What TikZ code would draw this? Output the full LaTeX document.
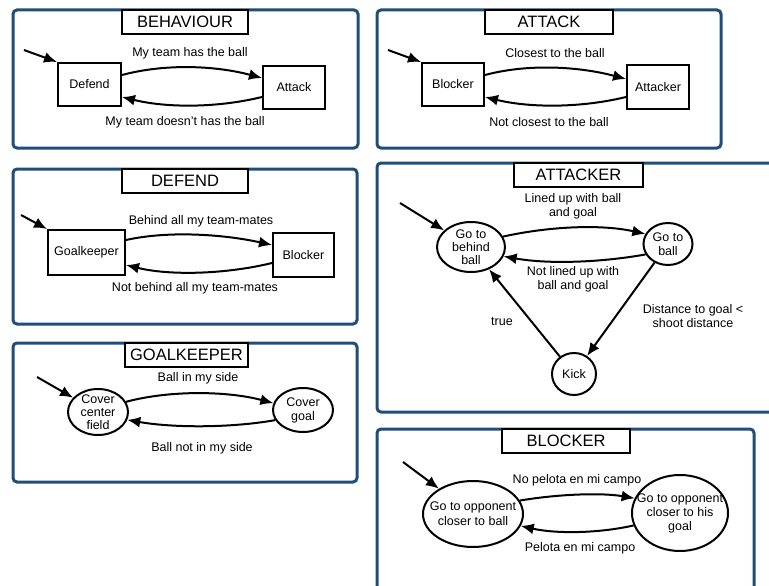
\documentclass[tikz,border=0pt]{standalone}
\usepackage{fontspec}
\setmainfont{Liberation Sans}
\usetikzlibrary{arrows.meta,shapes.geometric,calc}

\definecolor{panelblue}{RGB}{31,78,121}

\tikzset{
  panel/.style={draw=panelblue, line width=3pt, rounded corners=4pt},
  titlebox/.style={draw=black, line width=1.8pt, fill=white, inner sep=0pt,
    minimum height=24pt, font=\fontsize{16.5}{18}\selectfont},
  rectstate/.style={draw=black, line width=2pt, fill=white, inner sep=0pt,
    font=\fontsize{12.5}{14}\selectfont},
  ellstate/.style={ellipse, draw=black, line width=2pt, fill=white, inner sep=0pt},
  intext/.style={align=center, font=\fontsize{12.5}{13}\selectfont},
  lbl/.style={align=center, font=\fontsize{12.5}{14}\selectfont},
  arr/.style={draw=black, line width=2pt, -{Latex[length=13pt,width=11pt]}},
}

\begin{document}
\begin{tikzpicture}[x=1pt, y=-1pt]
  \clip (0,0) rectangle (769,586);
  \fill[white] (0,0) rectangle (769,586);

  % ---------------- BEHAVIOUR ----------------
  \draw[panel] (13,10) rectangle (358,148);
  \node[titlebox, minimum width=126pt] (tbeh) at (185,22) {BEHAVIOUR};
  \node[rectstate, minimum width=63pt, minimum height=43pt] (defend) at (89.5,84.5) {Defend};
  \node[rectstate, minimum width=62pt, minimum height=43pt] (attack) at (294,87.5) {Attack};
  \coordinate (ibeh) at (24,50);
  \draw[arr] (ibeh) -- (defend.north west);
  \draw[arr] ($(defend.east)+(0,-9.5)$) .. controls +(45,-12) and +(-45,-12) .. ($(attack.west)+(0,-9.5)$);
  \draw[arr] ($(attack.west)+(0,9.5)$) .. controls +(-45,11) and +(45,11) .. ($(defend.east)+(0,12.5)$);
  \node[lbl] (lbeh1) at (190,53) {My team has the ball};
  \node[lbl] (lbeh2) at (185,122) {My team doesn't has the ball};

  % ---------------- ATTACK ----------------
  \draw[panel] (377,10) rectangle (721,148);
  \node[titlebox, minimum width=128pt] (tatt) at (549,22) {ATTACK};
  \node[rectstate, minimum width=62pt, minimum height=43pt] (blocker) at (453,84.5) {Blocker};
  \node[rectstate, minimum width=62pt, minimum height=44pt] (attacker) at (658,87) {Attacker};
  \coordinate (iatt) at (388,50);
  \draw[arr] (iatt) -- (blocker.north west);
  \draw[arr] ($(blocker.east)+(0,-9.5)$) .. controls +(45,-12) and +(-45,-12) .. ($(attacker.west)+(0,-8)$);
  \draw[arr] ($(attacker.west)+(0,10)$) .. controls +(-45,11) and +(45,11) .. ($(blocker.east)+(0,12.5)$);
  \node[lbl] (latt1) at (555,53) {Closest to the ball};
  \node[lbl] (latt2) at (549,122) {Not closest to the ball};

  % ---------------- DEFEND ----------------
  \draw[panel] (13,169) rectangle (357,324);
  \node[titlebox, minimum width=126pt] (tdef) at (185,181) {DEFEND};
  \node[rectstate, minimum width=77pt, minimum height=45pt] (gk) at (86.5,252.5) {Goalkeeper};
  \node[rectstate, minimum width=61pt, minimum height=44pt] (blk) at (303.5,255) {Blocker};
  \coordinate (idef) at (21,215);
  \draw[arr] (idef) -- (gk.north west);
  \draw[arr] ($(gk.east)+(0,-12.5)$) .. controls +(45,-10) and +(-45,-10) .. ($(blk.west)+(0,-10)$);
  \draw[arr] ($(blk.west)+(0,8)$) .. controls +(-45,11) and +(45,11) .. ($(gk.east)+(0,12.5)$);
  \node[lbl] (ldef1) at (201,221) {Behind all my team-mates};
  \node[lbl] (ldef2) at (195,288) {Not behind all my team-mates};

  % ---------------- GOALKEEPER ----------------
  \draw[panel] (13,343) rectangle (357,482);
  \node[titlebox, minimum width=123pt] (tgk) at (186.5,355) {GOALKEEPER};
  \node[ellstate, minimum width=60pt, minimum height=46pt,
        label={[intext]center:{Cover\\center\\field}}] (ccf) at (98,412) {};
  \node[ellstate, minimum width=60pt, minimum height=44pt,
        label={[intext, font=\fontsize{12.5}{14}\selectfont]center:{Cover\\goal}}] (cg) at (303,410) {};
  \coordinate (igk) at (37,377);
  \draw[arr] (igk) -- (ccf);
  \draw[arr] (ccf.20) .. controls +(45,-12) and +(-45,-12) .. (cg.167);
  \draw[arr] (cg.200) .. controls +(-45,8) and +(45,8) .. (ccf.345);
  \node[lbl] (lgk1) at (198,378) {Ball in my side};
  \node[lbl] (lgk2) at (202,448) {Ball not in my side};

  % ---------------- ATTACKER ----------------
  \draw[panel] (377,163) rectangle (800,412);
  \node[titlebox, minimum width=129pt] (tatk) at (578.5,175) {ATTACKER};
  \node[ellstate, minimum width=68pt, minimum height=50pt,
        label={[intext]center:{Go to\\behind\\ball}}] (gbb) at (471,247) {};
  \node[ellstate, minimum width=49pt, minimum height=42pt,
        label={[intext, font=\fontsize{12.5}{14}\selectfont]center:{Go to\\ball}}] (gtb) at (668,244) {};
  \node[ellstate, minimum width=44pt, minimum height=42pt,
        label={[intext]center:{Kick}}] (kick) at (574,374) {};
  \coordinate (iatk) at (400,203);
  \draw[arr] (iatk) -- (gbb);
  \draw[arr] (gbb.18) .. controls +(45,-10) and +(-45,-10) .. (gtb.156);
  \draw[arr] (gtb.205) .. controls +(-45,8) and +(45,8) .. (gbb.344);
  \draw[arr] (gtb) -- (kick);
  \draw[arr] (kick) -- (gbb);
  \node[lbl] (latk1) at (573,206) {Lined up with ball\\and goal};
  \node[lbl] (latk2) at (573,279) {Not lined up with\\ball and goal};
  \node[lbl] (latk3) at (502,322) {true};
  \node[lbl] (latk4) at (693,316) {Distance to goal <\\shoot distance};

  % ---------------- BLOCKER ----------------
  \draw[panel] (377,429) rectangle (754,592);
  \node[titlebox, minimum width=128pt] (tblk) at (566,441) {BLOCKER};
  \node[ellstate, minimum width=100pt, minimum height=66pt,
        label={[intext, font=\fontsize{12.5}{15}\selectfont]center:{Go to opponent\\closer to ball}}] (e1) at (473,514) {};
  \node[ellstate, minimum width=96pt, minimum height=76pt,
        label={[intext, font=\fontsize{12.5}{14}\selectfont]center:{Go to opponent\\closer to his\\goal}}] (e2) at (680,513) {};
  \coordinate (iblk) at (403,462);
  \draw[arr] (iblk) -- (e1);
  \draw[arr] (e1.16) .. controls +(35,-6) and +(-35,-6) .. (e2.162);
  \draw[arr] (e2.195) .. controls +(-35,8) and +(35,8) .. (e1.346);
  \node[lbl] (lblk1) at (577,480) {No pelota en mi campo};
  \node[lbl] (lblk2) at (580,548) {Pelota en mi campo};
\end{tikzpicture}
\end{document}
